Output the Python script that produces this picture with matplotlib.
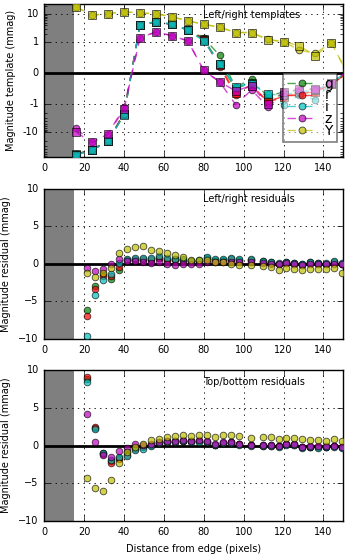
import matplotlib
matplotlib.use("Agg")
import matplotlib.pyplot as plt
from matplotlib.ticker import FixedLocator
from matplotlib.lines import Line2D

plt.style.use('classic')
plt.rcParams['font.family'] = ['DejaVu Sans']
plt.rcParams['font.size'] = 7
plt.rcParams['figure.facecolor'] = 'white'
plt.rcParams['savefig.facecolor'] = 'white'

bands = ['g', 'r', 'i', 'z', 'Y']
band_colors = ['g', 'r', 'c', 'm', 'y']

# ---- Top panel: left/right templates (circles = left, squares = right) ----
tmpl_x = [16, 24, 32, 40, 48, 56, 64, 72, 80, 88, 96, 104, 112, 120, 128, 136, 144, 152]
tmpl_left = {
    'g': [-60, -40, -20, -2.0, 4.0, 5.3, 4.3, 2.8, 1.4, 0.57, -0.45, -0.18, -0.75, -0.6, -0.55, -0.5, -0.3, 0.0],
    'r': [-62, -42, -21, -2.1, 4.0, 5.3, 4.3, 2.7, 1.3, 0.2, -0.7, -0.35, -0.95, -0.75, -0.65, -0.6, -0.35, 0.0],
    'i': [-64, -43, -21, -2.3, 4.1, 5.4, 4.3, 2.7, 1.1, 0.31, -0.44, -0.3, -0.68, -1.03, -0.7, -0.85, -0.3, 0.05],
    'z': [-7.3, -23, -11.5, -1.25, 1.44, 2.3, 1.7, 1.1, 0.09, -0.28, -1.03, -0.54, -1.2, -0.73, -0.6, -0.55, -0.3, 0.05],
    'Y': [17.9, 9.1, 10.5, 12, 11, 10.3, 8.0, 5.8, 4.3, 3.4, 2.2, 2.2, 1.27, 1.04, 0.74, 0.64, 0.98, 0.0],
}
tmpl_right = {
    'g': [-62, -42, -21, -2.2, 4.0, 5.3, 4.4, 2.8, 1.3, 0.3, -0.5, -0.3, -0.8, -0.7, -0.6, -0.55, -0.35, 0.0],
    'r': [-63, -43, -21, -2.3, 4.1, 5.3, 4.3, 2.7, 1.2, 0.25, -0.65, -0.4, -0.9, -0.75, -0.65, -0.6, -0.35, 0.0],
    'i': [-66, -43, -21, -2.4, 4.1, 5.4, 4.3, 2.7, 1.1, 0.31, -0.44, -0.35, -0.68, -0.7, -0.6, -0.55, -0.3, 0.05],
    'z': [-10, -23, -11.5, -1.5, 1.44, 2.3, 1.7, 1.1, 0.09, -0.28, -0.57, -0.4, -1.0, -0.6, -0.5, -0.5, -0.3, 0.05],
    'Y': [17.9, 9.1, 10.5, 12, 11, 10.3, 8.0, 5.8, 4.3, 3.4, 2.2, 2.2, 1.2, 1.04, 0.88, 0.56, 0.98, 0.0],
}

# ---- Residual panels ----
res_x = [21.5, 25.5, 29.5, 33.5, 37.5, 41.5, 45.5, 49.5, 53.5, 57.5, 61.5, 65.5, 69.5, 73.5, 77.5,
         81.5, 85.5, 89.5, 93.5, 97.5, 103.5, 109.5, 113.5, 117.5, 121.5, 125.5, 129.5, 133.5,
         137.5, 141.5, 145.5, 149.5]
lr_res = {
    'g': [-6.2, -3.0, -1.4, -1.95, -0.75, 0.5, 0.55, 0.55, 0.55, 0.75, 0.5, 0.67, 0.55, 0.4, 0.4, 0.75,
          0.5, 0.5, 0.65, 0.5, 0.55, 0.35, 0.2, 0.05, 0.2, 0.1, -0.05, 0.2, 0.1, 0.05, 0.3, 0.05],
    'r': [-7.0, -3.3, -1.6, -1.6, -0.35, 0.55, 0.6, 0.6, 0.6, 0.8, 0.5, 0.5, 0.5, 0.35, 0.35, 0.7,
          0.45, 0.45, 0.6, 0.45, 0.5, 0.3, 0.15, 0.0, 0.15, 0.05, -0.1, 0.15, 0.05, 0.0, 0.25, 0.0],
    'i': [-9.55, -4.2, -2.2, -1.33, 0.1, 0.7, 0.85, 0.85, 0.85, 1.07, 0.75, 0.67, 0.62, 0.45, 0.5, 0.9,
          0.62, 0.62, 0.8, 0.62, 0.67, 0.45, 0.3, 0.1, 0.27, 0.18, 0.0, 0.27, 0.18, 0.13, 0.4, 0.13],
    'z': [-0.58, -1.0, -0.67, -0.05, 0.7, 0.45, 0.4, 0.2, 0.1, 0.2, 0.0, -0.1, 0.0, -0.05, -0.05, 0.27,
          0.3, 0.3, 0.3, 0.22, 0.27, 0.1, 0.0, -0.05, 0.1, -0.05, -0.13, 0.05, 0.0, -0.05, 0.05, 0.0],
    'Y': [-1.2, -1.7, -1.25, -0.5, 1.42, 2.0, 2.3, 2.45, 1.85, 1.78, 1.42, 1.15, 0.93, 0.53, 0.53, 0.53,
          0.22, 0.3, -0.04, -0.18, -0.1, -0.3, -0.4, -0.75, -0.58, -0.62, -0.85, -0.62, -0.7, -0.62, -0.53, -1.15],
}
tb_res = {
    'g': [8.8, 2.3, -1.0, -2.1, -1.7, -0.8, -0.3, -0.1, 0.1, 0.4, 0.55, 0.55, 0.65, 0.6, 0.6, 0.5,
          0.12, 0.38, 0.45, 0.2, 0.08, 0.05, 0.05, -0.05, 0.2, 0.15, -0.18, -0.15, -0.15, -0.15, -0.05, -0.2],
    'r': [9.03, 2.5, -1.1, -2.26, -1.8, -1.2, -0.4, -0.2, 0.05, 0.35, 0.5, 0.5, 0.6, 0.55, 0.55, 0.45,
          0.1, 0.35, 0.4, 0.15, 0.05, 0.0, 0.0, -0.1, 0.15, 0.1, -0.2, -0.2, -0.2, -0.2, -0.1, -0.25],
    'i': [8.4, 2.2, -1.0, -1.9, -1.56, -1.38, -0.6, -0.4, -0.07, 0.3, 0.45, 0.45, 0.55, 0.5, 0.5, 0.4,
          0.05, 0.3, 0.35, 0.1, 0.0, -0.05, -0.05, -0.15, 0.1, 0.05, -0.3, -0.25, -0.3, -0.25, -0.15, -0.3],
    'z': [4.2, 0.5, -1.25, -1.47, -0.73, -0.3, 0.15, 0.1, 0.2, 0.46, 0.6, 0.6, 0.72, 0.64, 0.68, 0.55,
          0.15, 0.42, 0.5, 0.24, 0.1, 0.1, 0.1, -0.02, 0.24, 0.2, -0.15, -0.1, -0.1, -0.1, -0.02, -0.15],
    'Y': [-4.33, -5.65, -6.0, -4.55, -2.26, -0.9, -0.15, 0.2, 0.68, 0.9, 1.07, 1.25, 1.43, 1.3, 1.38, 1.43,
          1.12, 1.38, 1.43, 1.2, 1.0, 1.12, 1.12, 0.86, 1.0, 1.0, 0.8, 0.68, 0.77, 0.64, 0.86, 0.64],
}

tmpl_yticks = [-10, -1, 0, 1, 10]
tmpl_yticklabels = ['-10', '-1', '0', '1', '10']
res_yticks = [-10, -5, 0, 5, 10]
xticks = [0, 20, 40, 60, 80, 100, 120, 140]

fig = plt.figure(figsize=(3.51, 5.54), dpi=100)
ax1 = fig.add_axes([0.1262, 0.7161, 0.8519, 0.2767])
ax2 = fig.add_axes([0.1262, 0.3881, 0.8519, 0.2708])
ax3 = fig.add_axes([0.1262, 0.0590, 0.8519, 0.2736])

ALPHA = 0.7
MEW = 0.6

def common(ax):
    ax.axvspan(0, 15, color='#7f7f7f', zorder=0.5, lw=0)
    ax.axhline(0, color='k', lw=2, zorder=1.5)
    ax.set_xlim(0, 150)
    ax.set_xticks(xticks)
    ax.grid(True, color='k', linestyle=':', linewidth=0.6)
    ax.set_axisbelow(True)
    ax.tick_params(labelsize=7, direction='in', top=True, right=True)

# Top panel
ax1.set_yscale('symlog', linthresh=1, subs=[2, 3, 4, 5, 6, 7, 8, 9])
common(ax1)
handles = []
for b, c in zip(bands, band_colors):
    ax1.plot(tmpl_x, tmpl_left[b], linestyle='--', marker='o', color=c, alpha=ALPHA,
             ms=4.8, mec='k', mew=MEW, lw=1, zorder=3)
    ax1.plot(tmpl_x, tmpl_right[b], linestyle='--', marker='s', color=c, alpha=ALPHA,
             ms=5.2, mec='k', mew=MEW, lw=1, zorder=3)
    handles.append(Line2D([], [], linestyle='--', marker='o', color=c, alpha=ALPHA,
                          ms=5, mec='k', mew=MEW, lw=1))
ax1.set_ylim(-78, 23)
ax1.yaxis.set_major_locator(FixedLocator(tmpl_yticks))
ax1.set_yticklabels(tmpl_yticklabels)
ax1.set_ylabel('Magnitude template (mmag)', fontsize=7)
ax1.text(0.53, 0.93, 'Left/right templates', transform=ax1.transAxes, fontsize=7,
         ha='left', va='center')
leg = ax1.legend(handles, bands, loc='lower right', bbox_to_anchor=(0.98, 0.10),
                 borderaxespad=0, fontsize=10, numpoints=1, handlelength=2.2,
                 labelspacing=-0.16, borderpad=0.3, handletextpad=0.5,
                 framealpha=0.5, fancybox=False)
leg.get_frame().set_edgecolor('k')
leg.get_frame().set_linewidth(1.2)

# Middle panel
common(ax2)
for b, c in zip(bands, band_colors):
    ax2.plot(res_x, lr_res[b], linestyle='none', marker='o', color=c, alpha=ALPHA,
             ms=4.8, mec='k', mew=MEW, zorder=3)
ax2.set_ylim(-10, 10)
ax2.set_yticks(res_yticks)
ax2.set_ylabel('Magnitude residual (mmag)', fontsize=7)
ax2.text(0.53, 0.93, 'Left/right residuals', transform=ax2.transAxes, fontsize=7,
         ha='left', va='center')

# Bottom panel
common(ax3)
for b, c in zip(bands, band_colors):
    ax3.plot(res_x, tb_res[b], linestyle='none', marker='o', color=c, alpha=ALPHA,
             ms=4.8, mec='k', mew=MEW, zorder=3)
ax3.set_ylim(-10, 10)
ax3.set_yticks(res_yticks)
ax3.set_ylabel('Magnitude residual (mmag)', fontsize=7)
ax3.set_xlabel('Distance from edge (pixels)', fontsize=7)
ax3.text(0.53, 0.92, 'Top/bottom residuals', transform=ax3.transAxes, fontsize=7,
         ha='left', va='center')

fig.savefig('out.png', dpi=100)
